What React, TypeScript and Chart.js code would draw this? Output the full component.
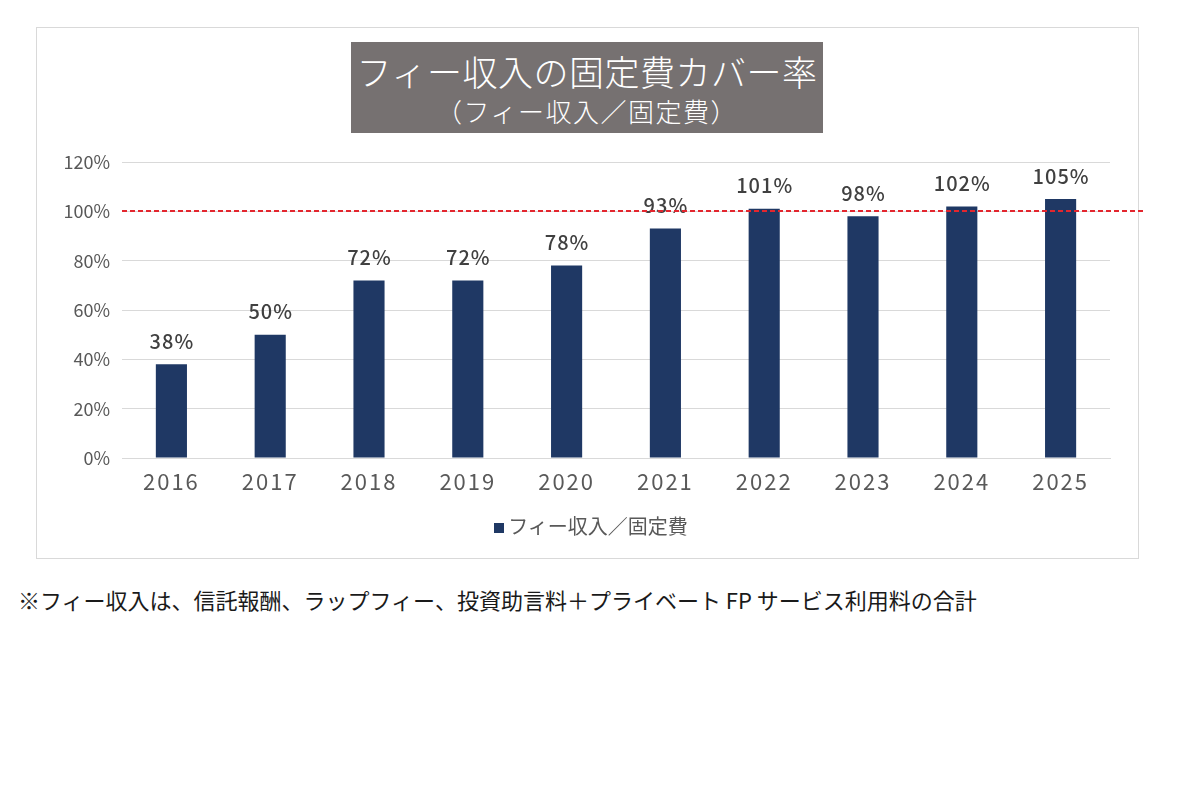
import React, { useEffect, useRef } from "react";
import { Chart, registerables } from "chart.js";

Chart.register(...registerables);

const categories = ["2016", "2017", "2018", "2019", "2020", "2021", "2022", "2023", "2024", "2025"];
const coverageValues = [38, 50, 72, 72, 78, 93, 101, 98, 102, 105];
const yTicks = [0, 20, 40, 60, 80, 100, 120];
const seriesLabel = "フィー収入／固定費";
const titleLine1 = "フィー収入の固定費カバー率";
const titleLine2 = "（フィー収入／固定費）";
const footnote = "※フィー収入は、信託報酬、ラップフィー、投資助言料＋プライベート FP サービス利用料の合計";
const referenceLine = 100;

const FONT = '"Noto Sans CJK JP", "Noto Sans", sans-serif';
const NAVY = "#1f3864";

export default function App() {
  const canvasRef = useRef<HTMLCanvasElement | null>(null);

  useEffect(() => {
    const canvas = canvasRef.current;
    if (!canvas) return;

    const labelPlugin = {
      id: "valueLabels",
      beforeDraw(chart: any) {
        (chart.ctx as any).letterSpacing = "0px";
      },
      afterDatasetsDraw(chart: any) {
        const ctx = chart.ctx;
        const meta = chart.getDatasetMeta(0);
        ctx.save();
        ctx.font = `500 20px ${FONT}`;
        (ctx as any).letterSpacing = "1px";
        ctx.fillStyle = "#404040";
        ctx.textAlign = "center";
        ctx.textBaseline = "bottom";
        meta.data.forEach((bar: any, i: number) => {
          ctx.fillText(`${coverageValues[i]}%`, bar.x + 0.5, bar.y - 13);
        });
        (ctx as any).letterSpacing = "0px";
        const y = Math.round(chart.scales.y.getPixelForValue(referenceLine));
        ctx.strokeStyle = "#e3262e";
        ctx.lineWidth = 2;
        ctx.setLineDash([5, 3]);
        ctx.beginPath();
        ctx.moveTo(chart.chartArea.left, y);
        ctx.lineTo(chart.width, y);
        ctx.stroke();
        ctx.restore();
        // x tick labels (ticks.z = 1) are drawn after this hook with wider spacing
        (ctx as any).letterSpacing = "2px";
      },
      afterDraw(chart: any) {
        (chart.ctx as any).letterSpacing = "0px";
      },
    };

    const chart = new Chart(canvas, {
      type: "bar",
      data: {
        labels: categories,
        datasets: [
          {
            label: seriesLabel,
            data: coverageValues,
            backgroundColor: NAVY,
            barPercentage: 0.63,
            categoryPercentage: 0.5,
          },
        ],
      },
      options: {
        animation: false,
        responsive: false,
        maintainAspectRatio: false,
        layout: { padding: { left: 0, top: 135, right: 36, bottom: 61 } },
        plugins: {
          legend: { display: false },
          title: { display: false },
          tooltip: { enabled: false },
        },
        scales: {
          x: {
            grid: { display: false },
            border: { display: true, color: "#d9d9d9", width: 1 },
            ticks: {
              z: 1,
              color: "#595959",
              font: { family: FONT, size: 22 },
              padding: 2,
            },
            afterFit(scale: any) {
              scale.height = 40;
            },
          },
          y: {
            min: 0,
            max: 120,
            afterBuildTicks(scale: any) {
              scale.ticks = yTicks.map((v) => ({ value: v }));
            },
            grid: { color: "#d9d9d9", lineWidth: 1, drawTicks: false },
            border: { display: false },
            ticks: {
              color: "#595959",
              font: { family: FONT, size: 18 },
              padding: 12,
              callback: (v: any) => `${v}%`,
            },
            afterFit(scale: any) {
              scale.width = 86;
            },
          },
        },
      },
      plugins: [labelPlugin],
    });

    return () => chart.destroy();
  }, []);

  return (
    <div style={{ position: "absolute", left: 0, top: 0, width: 1200, height: 800, background: "#fff", fontFamily: FONT }}>
      <div
        style={{
          position: "absolute",
          left: 36,
          top: 27,
          width: 1101,
          height: 530,
          border: "1.5px solid #d9d9d9",
        }}
      />
      <canvas
        ref={canvasRef}
        width={1110}
        height={532}
        style={{ position: "absolute", left: 36, top: 27, width: 1110, height: 532 }}
      />
      <div
        style={{
          position: "absolute",
          left: 351,
          top: 42,
          width: 472,
          height: 91,
          background: "#767171",
          color: "#fff",
          textAlign: "center",
        }}
      >
        <div style={{ fontSize: 35, lineHeight: "40px", marginTop: 9, letterSpacing: 0.5, fontWeight: 300 }}>{titleLine1}</div>
        <div style={{ fontSize: 26, lineHeight: "36px", marginTop: 2, letterSpacing: 1.5, fontWeight: 300 }}>{titleLine2}</div>
      </div>
      <div
        style={{
          position: "absolute",
          left: 0,
          top: 511,
          width: 1182,
          textAlign: "center",
          fontSize: 20,
          color: "#595959",
          lineHeight: "30px",
        }}
      >
        <span style={{ display: "inline-block", width: 10, height: 10, background: NAVY, marginRight: 4, verticalAlign: "middle", position: "relative", top: -1 }} />
        {seriesLabel}
      </div>
      <div
        style={{
          position: "absolute",
          left: 18,
          top: 583,
          fontSize: 22,
          color: "#1a1a1a",
          lineHeight: "32px",
          whiteSpace: "nowrap",
        }}
      >
        {footnote}
      </div>
    </div>
  );
}
